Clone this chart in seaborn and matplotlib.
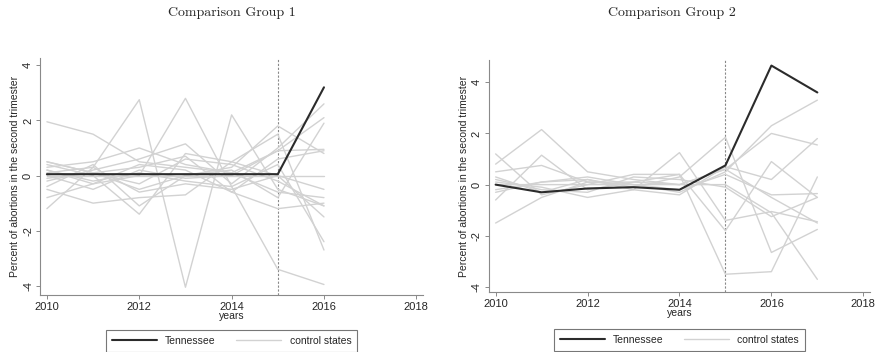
import numpy as np
import pandas as pd
import matplotlib
matplotlib.use("Agg")
import matplotlib.pyplot as plt
from matplotlib.lines import Line2D
import seaborn as sns

# ---------------- data ----------------
years1 = [2010, 2011, 2012, 2013, 2014, 2015, 2016]
tn1 = [0.05, 0.05, 0.05, 0.05, 0.05, 0.05, 3.2]
ctrl1 = [
    [1.95, 1.5, 0.5, 0.3, 0.1, 0.9, 0.95],
    [-1.2, 0.3, 2.75, -4.05, 2.2, -0.5, -1.1],
    [0.2, -0.3, 0.0, 2.8, -0.4, -3.4, -3.95],
    [0.5, 0.1, -0.5, 0.0, 0.3, 1.8, 0.8],
    [-0.5, -1.0, -0.8, -0.7, 0.5, 1.5, -2.7],
    [0.3, 0.5, 1.0, 0.4, 0.1, -0.6, -0.8],
    [-0.2, 0.2, 0.6, 1.15, -0.3, 1.0, 2.6],
    [0.4, 0.0, -1.4, 0.8, 0.5, 0.0, -0.5],
    [-0.8, -0.3, 0.4, 0.2, -0.6, -1.2, -1.0],
    [0.0, -0.5, 0.2, -0.1, 0.0, 0.9, 2.1],
    [0.1, 0.3, -0.6, -0.3, -0.5, 0.0, -1.5],
    [-0.4, 0.4, -1.1, 0.0, 0.2, -0.8, 1.9],
    [0.2, -0.2, 0.1, -0.2, -0.4, 0.4, -2.4],
    [0.0, 0.0, 0.0, 0.0, 0.0, 0.0, 0.0],
    [-0.1, 0.1, -0.3, 0.6, 0.4, -0.2, -1.1],
    [0.5, 0.1, 0.3, 0.7, -0.6, 0.6, 0.9],
]

years2 = [2010, 2011, 2012, 2013, 2014, 2015, 2016, 2017]
tn2 = [0.0, -0.3, -0.15, -0.1, -0.2, 0.75, 4.65, 3.6]
ctrl2 = [
    [0.8, 2.15, 0.5, 0.2, 0.0, 0.6, -0.5, -1.5],
    [-0.6, 1.15, -0.2, 0.1, 0.4, -1.8, 0.9, -0.5],
    [0.5, 0.75, 0.1, 0.0, -0.3, 0.5, 2.3, 3.3],
    [1.2, -0.4, 0.0, 0.4, 0.4, -3.5, -3.4, 0.3],
    [-1.5, -0.5, 0.1, 0.1, 0.0, 0.6, 2.0, 1.55],
    [0.1, -0.1, -0.5, -0.2, 1.25, -1.4, -1.05, -1.45],
    [-0.3, 0.1, 0.2, -0.1, 0.3, 1.85, -2.65, -1.75],
    [0.0, 0.0, 0.0, 0.0, 0.0, 0.0, -1.1, -3.7],
    [0.3, -0.3, 0.2, -0.2, -0.4, 0.7, 0.2, 1.8],
    [-0.2, 0.1, 0.3, 0.0, -0.2, 0.4, -0.4, -0.35],
    [0.2, -0.2, -0.3, 0.3, 0.2, -0.1, -1.25, -0.5],
]

titles = ["Comparison Group 1", "Comparison Group 2"]
xticks = [2010, 2012, 2014, 2016, 2018]
yticks = [-4, -2, 0, 2, 4]
ylabel = "Percent of abortions in the second trimester"
xlabel = "years"
legend_labels = ["Tennessee", "control states"]


def long_df(years, ctrl):
    rows = []
    for i, vals in enumerate(ctrl):
        for y, v in zip(years, vals):
            rows.append({"state": f"s{i}", "year": y, "value": v})
    return pd.DataFrame(rows)


sns.set_theme(style="white")
plt.rcParams["font.family"] = ["Liberation Sans", "DejaVu Sans"]
plt.rcParams["axes.unicode_minus"] = False

fig = plt.figure(figsize=(8.79, 3.52), dpi=100)
ax1 = fig.add_axes([0.0455, 0.162, 0.436, 0.673])
ax2 = fig.add_axes([0.556, 0.170, 0.434, 0.659])

ctrl_color = "#d2d2d2"
tn_color = "#2b2b2b"
axis_color = "#8a8a8a"

panels = [
    (ax1, years1, tn1, ctrl1, (-4.33, 4.26), titles[0], 0.264, -0.127),
    (ax2, years2, tn2, ctrl2, (-4.2, 4.86), titles[1], 0.764, -0.138),
]

for ax, years, tn, ctrl, ylim, title, tx, legy in panels:
    df = long_df(years, ctrl)
    sns.lineplot(data=df, x="year", y="value", units="state", estimator=None,
                 color=ctrl_color, linewidth=1.0, ax=ax, legend=False)
    tdf = pd.DataFrame({"year": years, "value": tn})
    sns.lineplot(data=tdf, x="year", y="value", color=tn_color, linewidth=1.5,
                 ax=ax, legend=False, zorder=5)
    ax.axvline(2015, color="#888888", linestyle=(0, (2, 1.5)), linewidth=0.8, zorder=1)
    ax.set_xlim(2009.85, 2018.15)
    ax.set_ylim(*ylim)
    ax.set_xticks(xticks)
    ax.set_yticks(yticks)
    ax.set_yticklabels([str(t) for t in yticks], rotation=90, va="center")
    ax.tick_params(axis="both", labelsize=8, length=3, width=0.7,
                   color=axis_color, direction="out", pad=2,
                   bottom=True, left=True)
    ax.set_xlabel(xlabel, fontsize=7.5, labelpad=-1)
    ax.set_ylabel(ylabel, fontsize=7.5, labelpad=2)
    for s in ["top", "right"]:
        ax.spines[s].set_visible(False)
    for s in ["left", "bottom"]:
        ax.spines[s].set_color(axis_color)
        ax.spines[s].set_linewidth(0.8)
    fig.text(tx, 0.962, title, ha="center", va="center", fontsize=10,
             family="cmr10")
    handles = [Line2D([0], [0], color=tn_color, linewidth=1.5),
               Line2D([0], [0], color=ctrl_color, linewidth=1.0)]
    ax.legend(handles, legend_labels, loc="upper center",
              bbox_to_anchor=(0.5, legy), ncol=2, fontsize=7.5, frameon=True,
              fancybox=False, edgecolor="#555555", handlelength=4.3,
              columnspacing=2.0, borderpad=0.55, handletextpad=0.8)
    ax.get_legend().get_frame().set_linewidth(0.8)

fig.savefig("out.png", dpi=100)
